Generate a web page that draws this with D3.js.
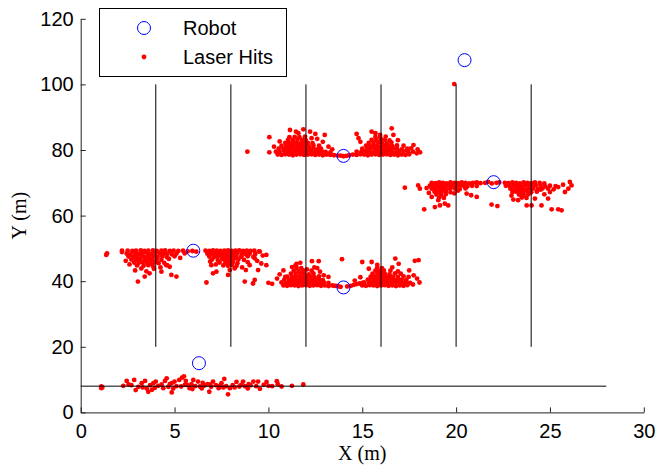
<!DOCTYPE html>
<html>
<head>
<meta charset="utf-8">
<script src="https://cdn.jsdelivr.net/npm/d3@7"></script>
<style>
body { margin: 0; background: #fff; }
svg { display: block; }
</style>
</head>
<body>
<svg width="656" height="467"></svg>
<script>
// robot positions (m)
const robotX = [6.0, 6.3, 14.0, 14.0, 22.0, 20.45];
const robotY = [49.3, 15.0, 38.1, 78.2, 70.2, 107.4];

// walls
const wallX = [4, 8, 12, 16, 20, 24];
const wallY = [20, 100];
const floorY = 8;
const floorX = [0, 28];

const xTicks = [0, 5, 10, 15, 20, 25, 30];
const yTicks = [0, 20, 40, 60, 80, 100, 120];

// laser hits
const hitsBottom = [
  [1.1,7.9],[1.1,7.4],[1.15,7.6],[2.27,8.1],[2.45,9.6],[2.55,8.5],[2.7,8.3],[2.85,9.9],[2.93,6.8],
  [3.07,7.8],[3.25,8.9],[3.3,7.6],[3.43,9.6],[3.52,7.3],[3.6,6.3],[3.7,8.3],[3.8,6.9],[3.87,8.9],
  [3.95,7.5],[4.0,9.4],[4.13,8.1],[4.31,8.5],[4.4,7.4],[4.49,9.6],[4.58,10.4],[4.67,7.8],[4.75,8.6],
  [4.85,8.9],[4.85,6.1],[4.93,7.3],[5.0,9.4],[5.1,8.0],[5.25,9.9],[5.35,7.9],[5.4,10.6],[5.5,11.0],
  [5.55,8.4],[5.6,9.6],[5.7,8.3],[5.8,7.4],[5.9,8.6],[5.95,7.1],[6.0,9.9],[6.1,8.0],[6.25,9.4],
  [6.35,7.9],[6.45,7.3],[6.5,9.0],[6.6,8.2],[6.75,8.6],[6.85,6.3],[6.9,8.5],[6.95,7.8],[7.05,9.4],
  [7.2,8.3],[7.35,7.4],[7.4,8.1],[7.5,8.9],[7.6,7.6],[7.65,10.2],[7.75,8.0],[7.85,5.5],[7.95,7.4],
  [8.1,8.3],[8.2,7.6],[8.3,9.3],[8.45,7.9],[8.55,8.4],[8.65,9.4],[8.75,8.0],[8.9,7.3],[8.95,8.6],
  [9.05,8.3],[9.2,9.4],[9.35,8.0],[9.45,9.4],[9.55,7.2],[9.75,8.4],[9.9,9.3],[10.0,8.1],[10.2,8.0],
  [10.45,9.5],[10.5,8.6],[10.7,7.9],[11.25,8.1],[11.86,8.5]
];

const hitsLeft = [
  [1.36,48.0],[1.4,48.5],[2.2,48.9],
  [2.2,49.3],[2.5,49.3],[2.75,49.2],[2.95,49.3],[3.2,49.4],[3.4,49.2],[3.6,49.3],[3.85,49.4],[4.05,49.2],
  [4.3,49.3],[4.5,49.4],[4.75,49.2],[4.95,49.3],[5.2,49.2],[5.45,49.3],[5.7,49.1],[5.95,49.2],[6.16,49.0],
  [2.45,48.4],[2.65,48.2],[2.9,48.5],[3.1,48.3],[3.3,48.4],[3.55,48.5],[3.75,48.3],[3.95,48.4],[4.2,48.5],
  [4.4,48.3],[4.6,48.4],[4.85,48.2],[5.1,48.4],[5.54,48.5],
  [2.55,47.5],[2.8,47.4],[3.0,47.6],[3.25,47.5],[3.45,47.3],[3.65,47.6],[3.9,47.5],[4.1,47.4],[4.35,47.6],
  [4.6,47.3],[5.0,47.6],
  [2.7,46.6],[2.95,46.5],[3.15,46.7],[3.4,46.6],[3.6,46.4],[3.8,46.7],[4.05,46.6],[4.3,46.5],[4.7,46.8],
  [2.85,45.7],[3.1,45.6],[3.3,45.8],[3.5,45.7],[3.75,45.5],[3.95,45.8],[4.45,45.6],
  [3.0,44.8],[3.35,44.7],[3.6,44.9],[3.85,44.6],[4.6,44.9],
  [3.05,39.9],[3.41,41.4],[3.67,42.4],[3.23,43.9],[4.3,42.9],[4.83,41.9],[5.1,41.4],[4.56,44.9],
  [4.74,44.4],[2.9,43.3],[3.9,43.8],[4.15,45.5],[2.4,46.2],[2.6,45.1],[4.25,44.2],[5.3,47.1],[3.5,43.0],
  [6.65,49.3],[6.85,49.2],[7.05,49.4],[7.25,49.3],[7.45,49.2],[7.65,49.3],[7.85,49.4],[8.05,49.2],
  [8.25,49.3],[8.45,49.4],[8.65,49.2],[8.85,49.3],[9.05,49.2],[9.25,49.3],[9.5,49.1],
  [6.75,48.4],[6.95,48.3],[7.15,48.5],[7.35,48.4],[7.55,48.2],[7.75,48.5],[7.95,48.4],[8.15,48.3],
  [8.35,48.5],[8.6,48.4],[8.8,48.2],[9.0,48.4],[9.3,48.3],
  [6.85,47.5],[7.1,47.4],[7.3,47.6],[7.5,47.5],[7.7,47.3],[7.9,47.6],[8.1,47.5],[8.3,47.4],[8.55,47.5],
  [8.9,47.6],[9.2,47.4],
  [7.0,46.6],[7.3,46.5],[7.55,46.7],[7.75,46.6],[7.95,46.4],[8.15,46.7],[8.4,46.6],[8.7,46.5],
  [7.4,45.7],[7.7,45.6],[7.9,45.8],[8.1,45.7],[8.35,45.5],[8.9,45.8],
  [7.6,44.8],[7.85,44.7],[8.05,44.9],[8.3,44.6],
  [6.7,39.6],[7.05,42.4],[7.23,42.9],[6.96,44.9],[7.85,41.9],[7.94,43.4],[8.74,39.9],[9.18,39.3],
  [9.27,40.4],[8.8,43.4],[9.0,44.9],[9.45,43.4],[9.62,45.4],[9.89,44.9],[9.89,48.0],[9.54,49.0],
  [9.27,47.0],[8.56,47.5],[6.9,46.0],[7.2,45.1],[8.6,44.2],[9.4,46.2],[9.7,47.8],[8.2,43.9]
];

const hitsMidLow = [
  [10.0,39.5],[10.2,39.2],[10.46,40.8],[10.8,43.3],[10.9,41.3],[11.26,44.3],[11.44,44.8],[11.5,45.3],
  [11.7,45.6],[12.32,46.1],[12.68,46.1],[12.6,44.0],[13.92,46.7],[13.2,41.3],[12.95,41.8],
  [10.8,38.7],[11.0,38.6],[11.2,38.8],[11.4,38.7],[11.6,38.5],[11.8,38.7],[12.0,38.8],[12.2,38.6],
  [12.4,38.7],[12.6,38.8],[12.8,38.6],[13.0,38.7],[13.2,38.5],[13.4,38.7],[13.6,38.6],[13.75,38.4],
  [10.7,39.6],[10.95,39.5],[11.15,39.7],[11.35,39.6],[11.55,39.4],[11.75,39.7],[11.95,39.6],[12.15,39.5],
  [12.35,39.7],[12.55,39.6],[12.75,39.4],[12.95,39.6],[13.2,39.5],
  [10.85,40.5],[11.1,40.4],[11.3,40.6],[11.5,40.5],[11.7,40.3],[11.9,40.6],[12.1,40.5],[12.3,40.4],
  [12.5,40.6],[12.7,40.5],[12.9,40.3],
  [11.0,41.4],[11.25,41.3],[11.45,41.5],[11.65,41.4],[11.85,41.2],[12.05,41.5],[12.25,41.4],[12.45,41.3],
  [12.7,41.5],
  [11.2,42.3],[11.45,42.2],[11.7,42.4],[11.9,42.3],[12.15,42.1],[12.4,42.4],
  [11.35,43.2],[11.6,43.1],[11.85,43.3],[12.3,43.2],
  [11.5,44.1],[11.75,44.0],[12.45,44.2],[12.05,43.6],[12.75,42.9],[10.6,42.1],
  [13.5,38.6],[13.85,38.3],[14.2,38.4],[14.4,38.6],[14.55,38.9],[14.7,39.1],[14.85,39.3],[15.0,39.5],
  [15.0,38.7],[15.2,38.6],[15.4,38.8],[15.6,38.7],[15.8,38.5],[16.0,38.7],[16.2,38.8],[16.4,38.6],
  [16.6,38.7],[16.8,38.5],[17.0,38.7],[17.2,38.6],[17.4,38.8],
  [15.1,39.6],[15.35,39.5],[15.55,39.7],[15.75,39.6],[15.95,39.4],[16.15,39.7],[16.35,39.6],[16.55,39.5],
  [16.75,39.7],[16.95,39.6],[17.15,39.4],[17.35,39.6],[17.55,39.5],
  [15.3,40.5],[15.5,40.4],[15.7,40.6],[15.9,40.5],[16.1,40.3],[16.3,40.6],[16.5,40.5],[16.7,40.4],
  [16.9,40.6],[17.1,40.5],[17.35,40.4],
  [15.45,41.4],[15.65,41.3],[15.85,41.5],[16.05,41.4],[16.25,41.2],[16.45,41.5],[16.65,41.4],[16.9,41.3],
  [17.2,41.5],
  [15.55,42.3],[15.8,42.2],[16.0,42.4],[16.2,42.3],[16.45,42.1],[16.75,42.4],[17.05,42.3],
  [15.7,43.2],[15.9,43.1],[16.15,43.3],[16.5,43.2],[16.9,43.0],
  [15.8,44.1],[16.05,44.0],[16.6,44.2],
  [15.0,45.85],[15.5,45.85],[15.8,45.0],[15.35,43.8],[16.76,46.9],[16.94,45.3],[17.5,43.3],[17.74,41.8],
  [17.92,40.8],[18.0,46.4],[17.8,46.2],[17.47,41.3],[17.3,39.8],[14.6,40.2],[14.9,41.2],[17.7,39.0],
  [18.05,39.6]
];

const hitsUpper = [
  [8.88,79.5],[10.05,83.9],[10.05,79.3],[11.12,83.9],[11.15,86.1],[11.47,85.6],[11.86,86.3],[11.6,85.1],
  [12.22,85.6],[12.5,84.9],[13.0,84.6],[12.3,83.6],[13.2,81.0],[13.4,80.2],[12.9,82.5],
  [10.5,78.6],[10.7,78.5],[10.9,78.7],[11.1,78.6],[11.3,78.4],[11.5,78.6],[11.7,78.7],[11.9,78.5],
  [12.1,78.6],[12.3,78.7],[12.5,78.5],[12.7,78.6],[12.9,78.4],[13.1,78.6],[13.3,78.5],[13.5,78.4],[13.7,78.3],
  [10.4,79.5],[10.6,79.4],[10.85,79.6],[11.05,79.5],[11.25,79.3],[11.45,79.6],[11.65,79.5],[11.85,79.4],
  [12.05,79.6],[12.25,79.5],[12.45,79.3],[12.65,79.5],[12.85,79.6],[13.05,79.4],[13.3,79.3],
  [10.55,80.4],[10.8,80.3],[11.0,80.5],[11.2,80.4],[11.4,80.2],[11.6,80.5],[11.8,80.4],[12.0,80.3],
  [12.2,80.5],[12.4,80.4],[12.6,80.2],[12.8,80.4],
  [10.7,81.3],[10.95,81.2],[11.15,81.4],[11.35,81.3],[11.55,81.1],[11.75,81.4],[11.95,81.3],[12.15,81.2],
  [12.4,81.4],[12.7,81.3],
  [10.9,82.2],[11.1,82.1],[11.3,82.3],[11.5,82.2],[11.7,82.0],[11.9,82.3],[12.1,82.2],[12.35,82.1],
  [11.05,83.1],[11.3,83.0],[11.55,83.2],[11.8,83.1],[12.0,82.9],
  [11.4,84.0],[11.65,83.9],[11.95,84.1],[10.6,82.6],[12.6,83.4],[10.3,81.0],
  [13.85,78.3],[14.0,78.1],[14.15,78.2],[14.3,78.4],
  [14.5,78.6],[14.7,78.5],[14.9,78.7],[15.1,78.6],[15.3,78.4],[15.5,78.6],[15.7,78.7],[15.9,78.5],
  [16.1,78.6],[16.3,78.7],[16.5,78.5],[16.7,78.6],[16.9,78.4],[17.1,78.6],[17.3,78.5],[17.5,78.7],
  [14.7,79.5],[14.95,79.4],[15.15,79.6],[15.35,79.5],[15.55,79.3],[15.75,79.6],[15.95,79.5],[16.15,79.4],
  [16.35,79.6],[16.55,79.5],[16.75,79.3],[16.95,79.5],[17.2,79.6],[17.45,79.4],[17.7,79.5],
  [15.0,80.4],[15.25,80.3],[15.45,80.5],[15.65,80.4],[15.85,80.2],[16.05,80.5],[16.25,80.4],[16.45,80.3],
  [16.65,80.5],[16.85,80.4],[17.1,80.2],[17.4,80.4],
  [15.2,81.3],[15.4,81.2],[15.6,81.4],[15.8,81.3],[16.0,81.1],[16.2,81.4],[16.4,81.3],[16.6,81.2],
  [16.85,81.4],[17.2,81.3],
  [15.35,82.2],[15.6,82.1],[15.85,82.3],[16.05,82.2],[16.3,82.0],[16.55,82.3],
  [15.5,83.1],[15.75,83.0],[16.0,83.2],[16.2,83.1],[16.45,82.9],
  [15.7,84.0],[15.95,83.9],[16.25,84.1],
  [14.7,84.9],[14.8,83.6],[14.9,82.5],[15.5,85.6],[15.7,85.1],[15.95,84.6],[16.57,86.6],[16.66,84.6],
  [17.73,81.5],[17.37,80.0],[18.08,79.3],[17.9,79.0],[17.6,80.5],[17.95,80.2],[16.9,83.0]
];

const hitsRight = [
  [17.27,68.5],[17.98,69.2],[18.07,68.2],[18.43,68.4],
  [18.7,70.0],[18.9,69.9],[19.1,70.1],[19.3,70.0],[19.5,69.8],[19.7,70.1],[19.9,70.0],[20.1,69.9],
  [20.3,70.1],[20.5,70.0],[20.7,69.8],[20.9,70.0],[21.1,70.1],[21.3,69.9],[21.55,70.0],[21.7,70.3],
  [21.9,69.8],[22.15,70.0],[22.3,70.1],[22.6,70.0],[22.8,69.9],[23.0,70.1],[23.2,70.0],[23.4,69.8],
  [23.6,70.1],[23.8,70.0],[24.0,69.9],[24.2,70.1],[24.45,70.0],[24.7,69.8],
  [18.6,69.1],[18.8,69.0],[19.0,69.2],[19.2,69.1],[19.4,68.9],[19.6,69.2],[19.8,69.1],[20.0,69.0],
  [20.2,69.2],[20.4,69.1],[20.6,68.9],[20.85,69.1],[21.1,69.0],[22.65,69.1],[22.85,69.0],[23.05,69.2],
  [23.25,69.1],[23.45,68.9],[23.65,69.2],[23.85,69.1],[24.05,69.0],[24.25,69.2],[24.5,69.1],[24.75,68.9],
  [25.0,69.1],[25.3,69.0],
  [18.7,68.2],[18.9,68.1],[19.1,68.3],[19.3,68.2],[19.5,68.0],[19.7,68.3],[19.95,68.2],[20.2,68.1],
  [20.5,68.3],[22.9,68.2],[23.1,68.1],[23.3,68.3],[23.5,68.2],[23.7,68.0],[23.9,68.3],[24.1,68.2],
  [24.35,68.1],[24.6,68.3],[24.9,68.2],
  [18.85,67.3],[19.05,67.2],[19.25,67.4],[19.45,67.3],[19.7,67.1],[23.2,67.3],[23.4,67.2],[23.6,67.4],
  [23.8,67.3],[24.0,67.1],[24.3,67.3],
  [18.95,66.4],[19.2,66.3],[19.45,66.5],[23.35,66.4],[23.6,66.3],[23.85,66.5],
  [19.1,65.5],[19.35,65.4],[23.5,65.5],[23.75,65.4],[19.9,66.8],[20.1,67.6],[18.55,66.9],[22.95,66.1],
  [24.5,67.9],[23.05,64.9],
  [18.3,61.9],[18.87,62.6],[19.14,63.1],[19.4,63.65],[19.58,63.1],[18.7,65.7],[19.05,64.7],[20.8,66.2],
  [21.1,65.7],[20.56,66.7],[21.89,63.35],[22.2,62.9],[23.0,67.2],[23.3,64.7],[23.49,66.2],[23.76,63.1],
  [24.02,63.1],[24.2,65.2],[24.55,63.1],[24.9,65.2],[25.09,61.9],[25.44,61.9],[25.62,61.6],[25.0,67.2],
  [25.44,68.7],[25.8,67.2],[25.98,68.2],[26.06,70.25],[26.15,69.2],[25.7,69.4],[25.2,68.0],[24.7,66.5]
];

const hitsStray = [[19.9,100.1]];

const laserHits = [].concat(hitsBottom, hitsLeft, hitsMidLow, hitsUpper, hitsRight, hitsStray);
const dotR = 2.4;

const svg = d3.select('svg');

const x = d3.scaleLinear().domain([0, 30]).range([80.7, 643.8]);
const y = d3.scaleLinear().domain([0, 120]).range([412.4, 18.8]);

function drawAxes() {
    let xAxis = d3.axisBottom(x).tickValues(xTicks).tickSizeInner(-5).tickSizeOuter(0).tickPadding(11);
    let yAxis = d3.axisLeft(y).tickValues(yTicks).tickSizeInner(-5).tickSizeOuter(0).tickPadding(7);

    let gx = svg.append('g').attr('transform', `translate(0,${y(0)})`).call(xAxis);
    let gy = svg.append('g').attr('transform', `translate(${x(0)},0)`).call(yAxis);

    [gx, gy].forEach(g => {
        g.selectAll('path, line').attr('stroke', '#222').attr('stroke-width', 1);
        g.selectAll('text')
            .attr('fill', '#000')
            .style('font-family', '"Liberation Sans", Arial, sans-serif')
            .style('font-size', '20px');
    });

    svg.append('text')
        .attr('x', x(15))
        .attr('y', 460)
        .attr('text-anchor', 'middle')
        .style('font-family', '"Liberation Serif", "Times New Roman", serif')
        .style('font-size', '20px')
        .text('X (m)');

    svg.append('text')
        .attr('transform', `translate(26,${(y(0) + y(120)) / 2}) rotate(-90)`)
        .attr('text-anchor', 'middle')
        .style('font-family', '"Liberation Serif", "Times New Roman", serif')
        .style('font-size', '20px')
        .text('Y (m)');
}

function drawHits() {
    svg.append('g').selectAll('circle')
        .data(laserHits)
        .join('circle')
        .attr('cx', d => x(d[0]))
        .attr('cy', d => y(d[1]))
        .attr('r', dotR)
        .attr('fill', '#ff0000');
}

function drawWalls() {
    let g = svg.append('g').attr('stroke', '#000').attr('stroke-width', 1);
    g.selectAll('line.wall')
        .data(wallX)
        .join('line')
        .attr('class', 'wall')
        .attr('x1', d => x(d)).attr('x2', d => x(d))
        .attr('y1', y(wallY[0])).attr('y2', y(wallY[1]));
    g.append('line')
        .attr('x1', x(floorX[0])).attr('x2', x(floorX[1]))
        .attr('y1', y(floorY)).attr('y2', y(floorY));
}

function drawRobots() {
    svg.append('g').selectAll('circle')
        .data(robotX)
        .join('circle')
        .attr('cx', d => x(d))
        .attr('cy', (d, i) => y(robotY[i]))
        .attr('r', 6.5)
        .attr('fill', 'none')
        .attr('stroke', '#0000ff')
        .attr('stroke-width', 1);
}

function drawLegend() {
    let g = svg.append('g');
    g.append('rect')
        .attr('x', 99.5).attr('y', 8.5)
        .attr('width', 187).attr('height', 68)
        .attr('fill', '#fff').attr('stroke', '#000').attr('stroke-width', 1);
    g.append('circle')
        .attr('cx', 144).attr('cy', 28).attr('r', 6.5)
        .attr('fill', 'none').attr('stroke', '#0000ff');
    g.append('circle')
        .attr('cx', 144).attr('cy', 57).attr('r', dotR)
        .attr('fill', '#ff0000');
    g.selectAll('text')
        .data(['Robot', 'Laser Hits'])
        .join('text')
        .attr('x', 183)
        .attr('y', (d, i) => 35 + i * 29)
        .style('font-family', '"Liberation Sans", Arial, sans-serif')
        .style('font-size', '20px')
        .text(d => d);
}

drawHits();
drawWalls();
drawRobots();
drawAxes();
drawLegend();
</script>
</body>
</html>
